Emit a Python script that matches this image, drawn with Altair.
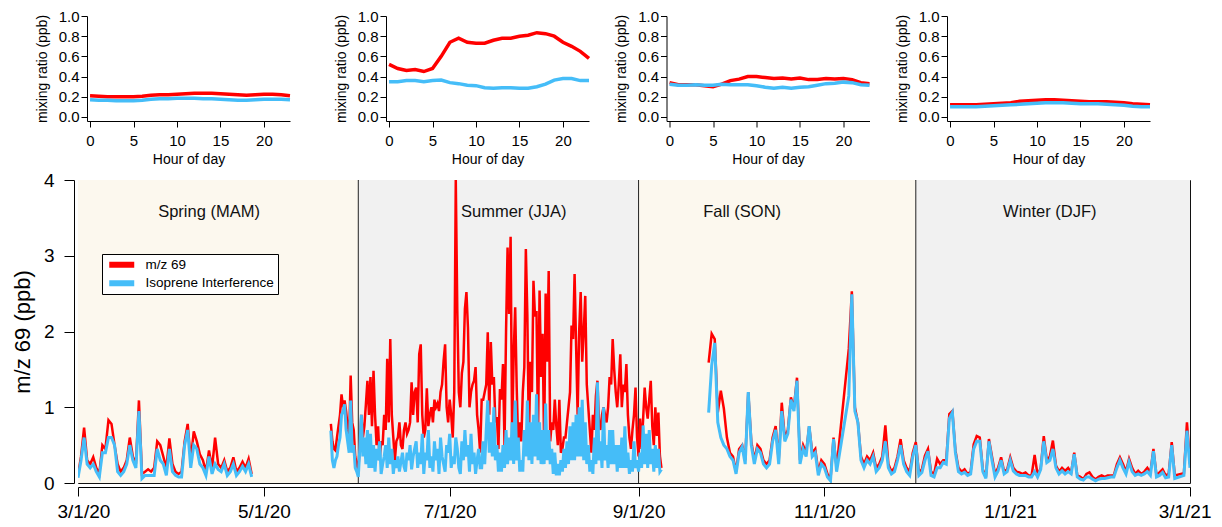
import altair as alt
import pandas as pd

FONT = "Liberation Sans"
RED = "#ff0000"
BLUE = "#45bdf8"
CREAM = "#fcf8ee"
GREY = "#f1f1f1"

# ---------------- diurnal profiles (hour of day) ----------------
hours = list(range(24))
spring_mz69 = [0.21,0.205,0.20,0.20,0.20,0.20,0.205,0.215,0.22,0.22,0.225,0.23,0.235,0.235,0.235,0.23,0.225,0.22,0.215,0.22,0.225,0.225,0.22,0.21]
spring_iso = [0.17,0.165,0.165,0.16,0.16,0.16,0.165,0.175,0.18,0.18,0.185,0.185,0.185,0.18,0.18,0.175,0.17,0.165,0.165,0.17,0.175,0.175,0.175,0.17]
summer_mz69 = [0.52,0.48,0.46,0.47,0.45,0.48,0.60,0.74,0.78,0.74,0.73,0.73,0.76,0.78,0.78,0.80,0.81,0.835,0.825,0.80,0.74,0.70,0.65,0.58]
summer_iso = [0.35,0.35,0.36,0.36,0.35,0.36,0.365,0.34,0.33,0.315,0.31,0.29,0.285,0.29,0.29,0.285,0.285,0.30,0.325,0.365,0.38,0.38,0.36,0.36]
fall_mz69 = [0.34,0.32,0.32,0.32,0.31,0.30,0.325,0.36,0.375,0.40,0.40,0.39,0.38,0.385,0.375,0.385,0.37,0.37,0.38,0.375,0.38,0.37,0.34,0.33]
fall_iso = [0.325,0.315,0.315,0.32,0.315,0.315,0.325,0.32,0.32,0.32,0.31,0.295,0.285,0.295,0.285,0.295,0.30,0.315,0.33,0.335,0.345,0.34,0.32,0.315]
winter_mz69 = [0.12,0.12,0.12,0.12,0.125,0.13,0.135,0.14,0.155,0.16,0.165,0.17,0.17,0.165,0.16,0.155,0.15,0.15,0.15,0.145,0.14,0.13,0.125,0.12]
winter_iso = [0.10,0.10,0.10,0.10,0.105,0.11,0.115,0.12,0.125,0.13,0.135,0.14,0.14,0.14,0.135,0.13,0.13,0.13,0.125,0.12,0.115,0.105,0.10,0.10]
hour_ticks = [0, 5, 10, 15, 20]
ratio_ticks = [0.0, 0.2, 0.4, 0.6, 0.8, 1.0]

# ---------------- time series (three continuous segments) ----------------
series_names = ["m/z 69", "Isoprene Interference"]

seg1_start, seg1_step = "2020-03-01", 1.0
seg1_mz69 = [0.10,0.35,0.73,0.30,0.25,0.34,0.20,0.12,0.50,0.45,0.83,0.78,0.50,0.25,0.15,0.20,0.30,0.60,0.35,0.25,
             1.09,0.12,0.15,0.18,0.15,0.20,0.55,0.50,0.35,0.20,0.59,0.25,0.15,0.12,0.15,0.55,0.78,0.30,0.68,0.55,
             0.38,0.30,0.15,0.43,0.20,0.60,0.25,0.20,0.30,0.15,0.20,0.34,0.15,0.20,0.28,0.20,0.32,0.12]
seg1_iso = [0.07,0.30,0.60,0.25,0.20,0.25,0.15,0.08,0.40,0.40,0.60,0.60,0.50,0.15,0.10,0.15,0.25,0.50,0.30,0.20,
            0.95,0.06,0.10,0.10,0.10,0.10,0.45,0.30,0.25,0.10,0.45,0.15,0.10,0.08,0.08,0.50,0.70,0.20,0.50,0.45,
            0.25,0.20,0.10,0.35,0.12,0.25,0.18,0.15,0.25,0.10,0.15,0.25,0.10,0.15,0.22,0.15,0.25,0.08]

seg2_start, seg2_step = "2020-05-23", 0.5
seg2_mz69 = [0.78,0.55,0.45,0.43,0.60,0.75,0.90,1.17,1.00,1.09,0.95,0.75,0.60,1.42,0.80,0.70,0.35,0.25,0.16,
             0.50,0.90,0.60,0.75,1.04,1.35,0.90,1.40,0.75,1.48,
             0.90,0.50,0.75,0.30,0.55,0.50,0.90,0.70,1.64,0.80,
             1.90,0.90,0.60,0.30,0.55,0.60,0.80,0.50,0.45,0.70,
             0.80,0.65,0.70,0.80,1.33,0.90,1.20,1.26,0.80,1.70,
             1.83,0.90,0.60,0.70,1.25,0.75,0.90,1.00,0.80,1.10,
             1.00,1.05,0.95,1.20,1.30,1.61,1.83,1.00,0.80,1.10,
             0.90,0.60,1.20,4.00,2.27,1.20,1.00,1.45,1.60,2.30,
             2.52,2.05,1.00,1.20,1.30,1.35,1.53,0.90,0.70,0.40,
             1.10,1.10,1.20,1.30,1.99,0.90,1.86,1.30,1.40,0.80,
             0.87,0.45,1.24,1.10,1.57,0.50,2.00,3.11,2.23,3.25,
             0.60,1.70,2.32,1.26,0.50,0.80,0.55,1.20,1.53,3.09,
             2.20,0.55,1.60,1.20,2.67,2.20,2.27,0.60,2.54,1.40,
             1.97,0.50,2.50,1.60,2.80,0.55,0.80,0.70,1.10,0.75,
             0.50,1.10,0.40,0.45,0.60,0.60,0.80,1.00,1.20,2.08,
             1.90,2.76,1.80,0.90,2.00,2.52,1.60,2.00,2.47,1.30,
             1.00,0.70,0.40,0.90,0.70,1.15,1.35,0.80,0.70,0.90,
             1.00,0.90,0.80,1.00,1.40,1.30,1.90,1.50,1.20,1.00,
             1.30,1.70,1.00,1.30,1.20,1.57,0.90,0.60,0.45,0.70,
             0.90,1.26,0.60,0.35,
             0.85,0.45,0.85,1.26,1.00,0.85,1.10,1.35,0.75,0.50,1.00,0.62,0.93,0.36,0.20]
seg2_iso = [0.69,0.30,0.20,0.30,0.35,0.50,0.60,0.90,0.95,1.04,0.70,0.55,0.40,1.09,0.40,0.50,0.20,0.15,0.08,
            0.45,0.90,0.35,0.60,0.25,0.70,0.20,0.65,0.20,0.50,
            0.15,0.45,0.30,0.55,0.12,0.25,0.35,0.50,0.20,0.60,
            0.25,0.45,0.12,0.30,0.20,0.35,0.15,0.28,0.40,0.22,
            0.15,0.40,0.30,0.50,0.18,0.35,0.45,0.55,0.20,0.40,
            0.25,0.65,0.12,0.40,0.30,0.70,0.20,0.35,0.15,0.55,
            0.30,0.45,0.12,0.60,0.35,0.25,0.15,0.50,0.40,0.65,
            0.20,0.35,0.25,0.60,0.45,0.20,0.12,0.55,0.30,0.70,
            0.35,0.50,0.15,0.65,0.25,0.40,0.12,0.30,0.45,0.20,
            0.20,0.55,0.25,0.70,1.09,0.40,0.80,0.35,1.00,0.30,
            0.50,0.15,0.40,0.15,0.50,0.20,0.70,0.25,0.60,0.30,
            0.80,0.25,1.09,0.30,0.60,0.15,0.30,0.15,0.70,0.35,
            1.09,0.30,0.80,0.25,0.90,0.35,1.17,0.30,0.80,0.25,
            0.70,0.25,1.05,0.30,0.70,0.25,0.45,0.12,0.40,0.10,
            0.25,0.10,0.30,0.15,0.45,0.20,0.55,0.25,0.75,0.30,
            0.80,0.30,0.90,0.35,1.00,0.35,1.10,0.30,0.80,0.25,
            0.50,0.15,0.30,0.12,0.60,0.25,1.33,0.30,0.55,0.20,
            1.00,0.30,0.50,0.20,0.70,0.25,0.70,0.25,0.50,0.15,
            0.50,0.20,0.60,0.20,0.75,0.20,0.40,0.12,0.30,0.15,
            0.55,0.20,0.30,0.15,
            0.40,0.20,0.76,0.25,0.65,0.20,0.70,0.25,0.45,0.15,0.50,0.20,0.45,0.15,0.18]

seg3_start, seg3_step = "2020-09-24", 1.0
seg3_mz69 = [1.59,1.97,1.90,0.93,1.22,0.98,0.60,0.40,0.35,0.15,
             0.45,0.50,0.30,1.20,0.55,0.30,0.50,0.45,0.30,0.25,
             0.30,0.60,0.75,0.30,1.06,0.60,0.70,1.13,1.00,1.39,
             0.30,0.50,0.40,0.75,0.40,0.45,0.15,0.30,0.25,0.12,
             0.05,0.60,0.20,None,None,None,
             1.77,2.53,1.00,0.80,0.35,0.25,0.35,0.30,0.40,0.20,
             0.25,0.35,0.76,0.25,0.15,0.20,0.35,0.58,0.30,0.20,
             0.15,0.40,0.54,
             0.14,0.18,0.36,0.45,0.15,0.12,0.32,0.25,0.30,0.30,
             0.91,0.95,0.43,0.20,0.15,0.18,0.12,0.15,0.51,0.62,
             0.60,0.18,0.08,0.58,0.35,0.12,0.20,0.34,0.15,0.18,
             0.34,0.20,0.15,0.14,0.12,0.14,0.10,0.10,0.37,0.10,
             0.20,0.62,0.30,0.35,0.56,0.23,0.15,0.20,0.16,0.20,
             0.14,0.40,0.10,0.08,0.05,0.12,0.14,0.08,0.05,0.08,
             0.10,0.08,0.10,0.10,0.10,0.25,0.34,0.25,0.15,0.32,
             0.20,0.12,0.16,0.12,0.15,0.20,0.14,0.45,0.10,0.14,
             0.18,0.10,0.12,0.54,0.10,None,None,0.13,0.80,0.25]
seg3_iso = [0.93,1.55,1.85,0.80,0.60,0.50,0.45,0.35,0.30,0.12,
            0.40,0.48,0.25,1.20,0.50,0.25,0.45,0.40,0.25,0.20,
            0.25,0.55,0.70,0.25,0.95,0.55,0.65,1.10,0.95,1.35,
            0.25,0.45,0.35,0.75,0.35,0.40,0.10,0.25,0.20,0.08,
            0.03,0.58,0.15,None,None,None,
            1.15,2.49,0.95,0.80,0.30,0.20,0.30,0.25,0.35,0.15,
            0.20,0.30,0.55,0.20,0.12,0.15,0.30,0.50,0.25,0.15,
            0.10,0.35,0.50,
            0.10,0.14,0.30,0.42,0.10,0.08,0.20,0.20,0.27,0.25,
            0.85,0.93,0.40,0.15,0.12,0.14,0.10,0.12,0.45,0.55,
            0.55,0.15,0.06,0.55,0.30,0.08,0.16,0.30,0.12,0.15,
            0.30,0.16,0.12,0.10,0.10,0.10,0.08,0.08,0.15,0.08,
            0.18,0.55,0.27,0.30,0.45,0.20,0.12,0.16,0.12,0.15,
            0.12,0.38,0.08,0.05,0.04,0.08,0.08,0.05,0.03,0.05,
            0.06,0.06,0.07,0.08,0.08,0.20,0.30,0.20,0.12,0.28,
            0.15,0.10,0.12,0.10,0.12,0.15,0.10,0.42,0.08,0.10,
            0.14,0.07,0.08,0.50,0.06,None,None,0.10,0.69,0.20]

# seasons
season_names = ["Spring (MAM)", "Summer (JJA)", "Fall (SON)", "Winter (DJF)"]
season_start = ["2020-03-01", "2020-06-01", "2020-09-01", "2020-12-01"]
season_end = ["2020-06-01", "2020-09-01", "2020-12-01", "2021-03-01"]
season_kind = ["light", "grey", "light", "grey"]
season_label_date = ["2020-04-13", "2020-07-22", "2020-10-05", "2021-01-14"]
divider_dates = ["2020-06-01", "2020-09-01", "2020-12-01"]
date_ticks = ["2020-03-01", "2020-05-01", "2020-07-01", "2020-09-01", "2020-11-01", "2021-01-01", "2021-03-01"]


def iso(d):
    return pd.Timestamp(d).strftime("%Y-%m-%dT%H:%M:%SZ")


def dt(d):
    t = pd.Timestamp(d)
    return alt.DateTime(year=t.year, month=t.month, date=t.day, utc=True)


rows = []
for name, start, step, red, blue in [("a", seg1_start, seg1_step, seg1_mz69, seg1_iso),
                                     ("b", seg2_start, seg2_step, seg2_mz69, seg2_iso),
                                     ("c", seg3_start, seg3_step, seg3_mz69, seg3_iso)]:
    t0 = pd.Timestamp(start)
    for i, (r, b) in enumerate(zip(red, blue)):
        t = iso(t0 + pd.Timedelta(days=i * step))
        if r is not None:
            rows.append({"date": t, "value": r, "series": series_names[0], "seg": name})
        if b is not None:
            rows.append({"date": t, "value": b, "series": series_names[1], "seg": name})
ts = pd.DataFrame(rows)

bands = pd.DataFrame({"start": [iso(s) for s in season_start], "end": [iso(s) for s in season_end],
                      "kind": season_kind})
labels = pd.DataFrame({"date": [iso(s) for s in season_label_date], "label": season_names})
dividers = pd.DataFrame({"date": [iso(s) for s in divider_dates]})

# ---------------- main panel ----------------
MW, MH = 1112, 303
xscale = alt.Scale(type="utc", domain=[dt(date_ticks[0]), dt(date_ticks[-1])], nice=False)
xaxis = alt.Axis(values=[dt(d) for d in date_ticks], labelExpr="utcFormat(datum.value, '%-m/%-d/%y')",
                 title=None, grid=False, offset=4, tickSize=9, labelPadding=6,
                 labelFontSize=19, labelFont=FONT, labelColor="black",
                 domainColor="black", tickColor="black", labelFlush=True, labelFlushOffset=21,
                 labelOverlap=False)
xenc = alt.X("date:T", scale=xscale, axis=xaxis)
yscale = alt.Scale(domain=[0, 4], nice=False)
yaxis = alt.Axis(values=[0, 1, 2, 3, 4], title="m/z 69 (ppb)", grid=False, offset=4, tickSize=10,
                 labelPadding=10, labelFontSize=19, labelFont=FONT, labelColor="black",
                 titleFontSize=22, titleFont=FONT, titleFontWeight="normal", titleColor="black",
                 titlePadding=9, domainColor="black", tickColor="black")

band_layer = alt.Chart(bands).mark_rect().encode(
    x=alt.X("start:T", scale=xscale, axis=xaxis),
    x2="end:T",
    fill=alt.Fill("kind:N", scale=alt.Scale(domain=["light", "grey"], range=[CREAM, GREY]), legend=None),
)
divider_layer = alt.Chart(dividers).mark_rule(color="#222", strokeWidth=1).encode(x=xenc)

color = alt.Color("series:N", scale=alt.Scale(domain=series_names, range=[RED, BLUE]),
                  legend=alt.Legend(title=None, orient="none", legendX=24, legendY=74,
                                    strokeColor="black", fillColor="white", padding=4,
                                    symbolType="M-1,0H3", symbolStrokeWidth=6, symbolSize=156,
                                    clipHeight=13.5, rowPadding=3.5, labelFontSize=13.5, labelFont=FONT,
                                    labelColor="black", labelOffset=20.5))

red_layer = alt.Chart(ts[ts.series == series_names[0]]).mark_line(strokeWidth=2.5, clip=True).encode(
    x=xenc, y=alt.Y("value:Q", scale=yscale, axis=yaxis), color=color, detail="seg:N")
blue_layer = alt.Chart(ts[ts.series == series_names[1]]).mark_line(strokeWidth=3, clip=True).encode(
    x=xenc, y=alt.Y("value:Q", scale=yscale, axis=yaxis), color=color, detail="seg:N")
label_layer = alt.Chart(labels).mark_text(fontSize=16.5, font=FONT, color="#111", baseline="middle").encode(
    x=xenc, y=alt.value(32), text="label:N")

main = alt.layer(band_layer, divider_layer, red_layer, blue_layer, label_layer).properties(
    width=MW, height=MH, view=alt.ViewBackground(stroke="#111", strokeWidth=1))


# ---------------- diurnal panels ----------------
def panel(red, blue):
    df = pd.DataFrame({"hour": hours * 2, "value": red + blue,
                       "series": [series_names[0]] * 24 + [series_names[1]] * 24})
    x = alt.X("hour:Q", scale=alt.Scale(domain=[-0.35, 23], nice=False, zero=False),
              axis=alt.Axis(values=hour_ticks, title="Hour of day", grid=False, tickSize=6,
                            labelPadding=6, labelFontSize=15, labelFont=FONT, labelColor="black",
                            titleFontSize=14, titleFont=FONT, titleFontWeight="normal",
                            titleColor="black", titlePadding=4, domainColor="black",
                            tickColor="black", labelFlush=False))
    y = alt.Y("value:Q", scale=alt.Scale(domain=[-0.04, 1.0], nice=False, zero=False),
              axis=alt.Axis(values=ratio_ticks, format=".1f", title="mixing ratio (ppb)", grid=False,
                            tickSize=6, labelPadding=2, labelFontSize=15, labelFont=FONT,
                            labelColor="black", titleFontSize=14, titleFont=FONT,
                            titleFontWeight="normal", titleColor="black", titlePadding=9,
                            domainColor="black", tickColor="black", labelFlush=False))
    r = alt.Chart(df[df.series == series_names[0]]).mark_line(color=RED, strokeWidth=3.5).encode(x=x, y=y)
    b = alt.Chart(df[df.series == series_names[1]]).mark_line(color=BLUE, strokeWidth=3.5).encode(x=x, y=y)
    return alt.layer(r, b).properties(width=203, height=105)


spacer = alt.Chart(pd.DataFrame({"h": [0]})).mark_point(opacity=0).encode(
    x=alt.X("h:Q", axis=None), y=alt.Y("h:Q", axis=None)).properties(width=1, height=1)

p1 = panel(spring_mz69, spring_iso)
p2 = panel(summer_mz69, summer_iso)
p3 = panel(fall_mz69, fall_iso)
p4 = panel(winter_mz69, winter_iso)

inner = alt.hconcat(p2, p3, p4, spacing=77.5, bounds="flush")
mid = alt.hconcat(p1, inner, spacing=96, bounds="flush")
top = alt.hconcat(spacer, mid, spacing=8, bounds="flush")

chart = alt.vconcat(top, main, spacing=4).resolve_scale(color="independent", fill="independent").resolve_legend(
    color="independent", fill="independent").properties(
    padding={"left": 2, "top": 1, "right": 0, "bottom": 0}
).configure(font=FONT).configure_view(stroke=None)

chart.save("out.html", embed_options={"renderer": "svg", "actions": False})
